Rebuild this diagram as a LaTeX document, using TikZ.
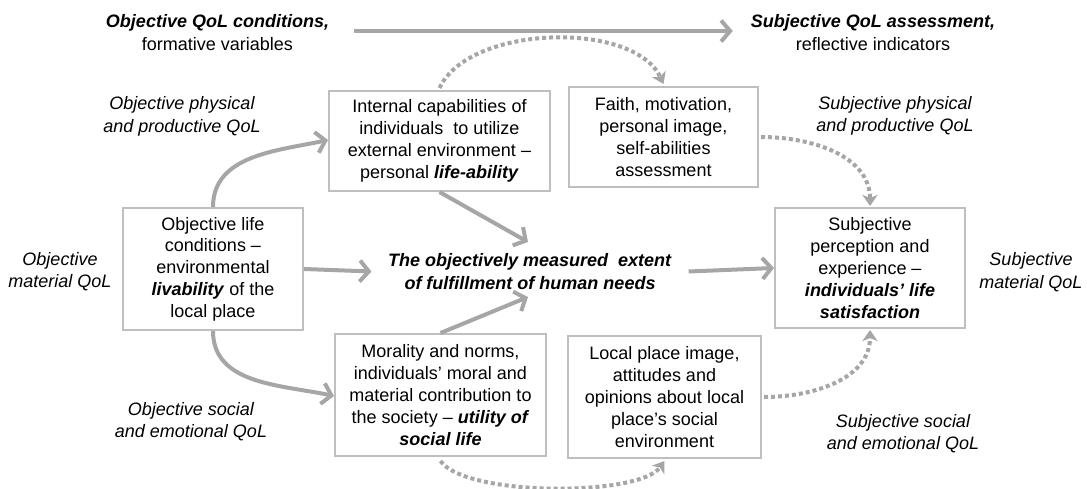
\documentclass[tikz,border=0pt]{standalone}
\usepackage{fontspec}
\setmainfont{Liberation Sans}
\usetikzlibrary{arrows.meta}
\definecolor{arr}{HTML}{A6A6A6}
\definecolor{bx}{HTML}{BFBFBF}
\begin{document}
\begin{tikzpicture}[x=1pt,y=1pt,
  every node/.style={font=\fontsize{18}{21.8}\selectfont, align=center, inner sep=0pt},
  box/.style={draw=bx, line width=2pt},
  lbl/.style={font=\fontsize{18}{22.5}\selectfont\itshape},
  sarr/.style={draw=arr, line width=4pt, -{Straight Barb[length=9pt,width=21pt]}},
  darr/.style={draw=arr, line width=4pt, dash pattern=on 4pt off 3pt, -{Stealth[length=11pt,width=15pt,inset=3pt]}}]
\useasboundingbox (0,0) rectangle (1087,488);

% boxes
\node[box, minimum width=221pt, minimum height=100pt] (A) at (439.5,347)
  {Internal capabilities of\\individuals\ \ to utilize\\external environment –\\personal \textbf{\textit{life-ability}}};
\node[box, minimum width=189pt, minimum height=100pt] (F) at (663.5,351)
  {Faith, motivation,\\personal image,\\self-abilities\\assessment};
\node[box, minimum width=180pt, minimum height=122pt] (O) at (213,219)
  {Objective life\\conditions –\\environmental\\\textbf{\textit{livability}} of the\\local place};
\node[box, minimum width=190pt, minimum height=120pt] (S) at (870,220)
  {Subjective\\perception and\\experience –\\\textbf{\textit{individuals’ life}}\\\textbf{\textit{satisfaction}}};
\node[box, minimum width=211pt, minimum height=122pt] (M) at (440.5,93)
  {Morality and norms,\\individuals’ moral and\\material contribution to\\the society – \textbf{\textit{utility of}}\\\textbf{\textit{social life}}};
\node[box, minimum width=193pt, minimum height=122pt] (L) at (664.5,91)
  {Local place image,\\attitudes and\\opinions about local\\place’s social\\environment};

% centre
\node[inner xsep=16.5pt, inner ysep=4pt, font=\fontsize{18}{23}\selectfont] (C) at (530,216.5)
  {\textbf{\textit{The objectively measured\ \ extent}}\\\textbf{\textit{of fulfillment of human needs}}};

% top headings
\node[font=\fontsize{18}{23}\selectfont] (TL) at (217.5,455.5) {\textbf{\textit{Objective QoL conditions,}}\\formative variables};
\node[font=\fontsize{18}{23}\selectfont] (TR) at (873,455.5) {\textbf{\textit{Subjective QoL assessment,}}\\reflective indicators};

% italic labels
\node[lbl] (l1) at (182,371.5) {Objective physical\\and productive QoL};
\node[lbl] (l2) at (895,372) {Subjective physical\\and productive QoL};
\node[lbl] (l3) at (60,216.5) {Objective\\material QoL};
\node[lbl] (l4) at (1031,216) {Subjective\\material QoL};
\node[lbl] (l5) at (191,66.5) {Objective social\\and emotional QoL};
\node[lbl] (l6) at (903,54.5) {Subjective social\\and emotional QoL};

\coordinate (c1) at (528,246);
\coordinate (c2) at (528,191);

% solid arrows
\draw[sarr, shorten <=25pt, shorten >=18pt] ([yshift=1.5pt]TL.east) -- ([yshift=1.5pt]TL.east -| TR.west);
\draw[sarr] (O.north) to[out=90,in=192] ([yshift=1pt]A.west);
\draw[sarr] (O.south) to[out=-90,in=168] ([yshift=-1pt]M.west);
\draw[sarr] (O.east) -- (C.west);
\draw[sarr] (C.east) -- (S.west);
\draw[sarr] (A.south) -- (c1);
\draw[sarr] (M.north) -- (c2);

% dotted arrows
\draw[darr] ([yshift=2pt]A.north) to[out=65,in=115,looseness=0.8] ([yshift=2pt]F.north);
\draw[darr] ([xshift=2pt]F.east) to[out=0,in=90] ([yshift=1pt]S.north);
\draw[darr] ([xshift=2pt]L.east) to[out=0,in=-90] ([yshift=-1pt]S.south);
\draw[darr] ([yshift=-4pt]M.south) to[out=-55,in=-125,looseness=0.5] ([yshift=-2pt]L.south);
\end{tikzpicture}
\end{document}
